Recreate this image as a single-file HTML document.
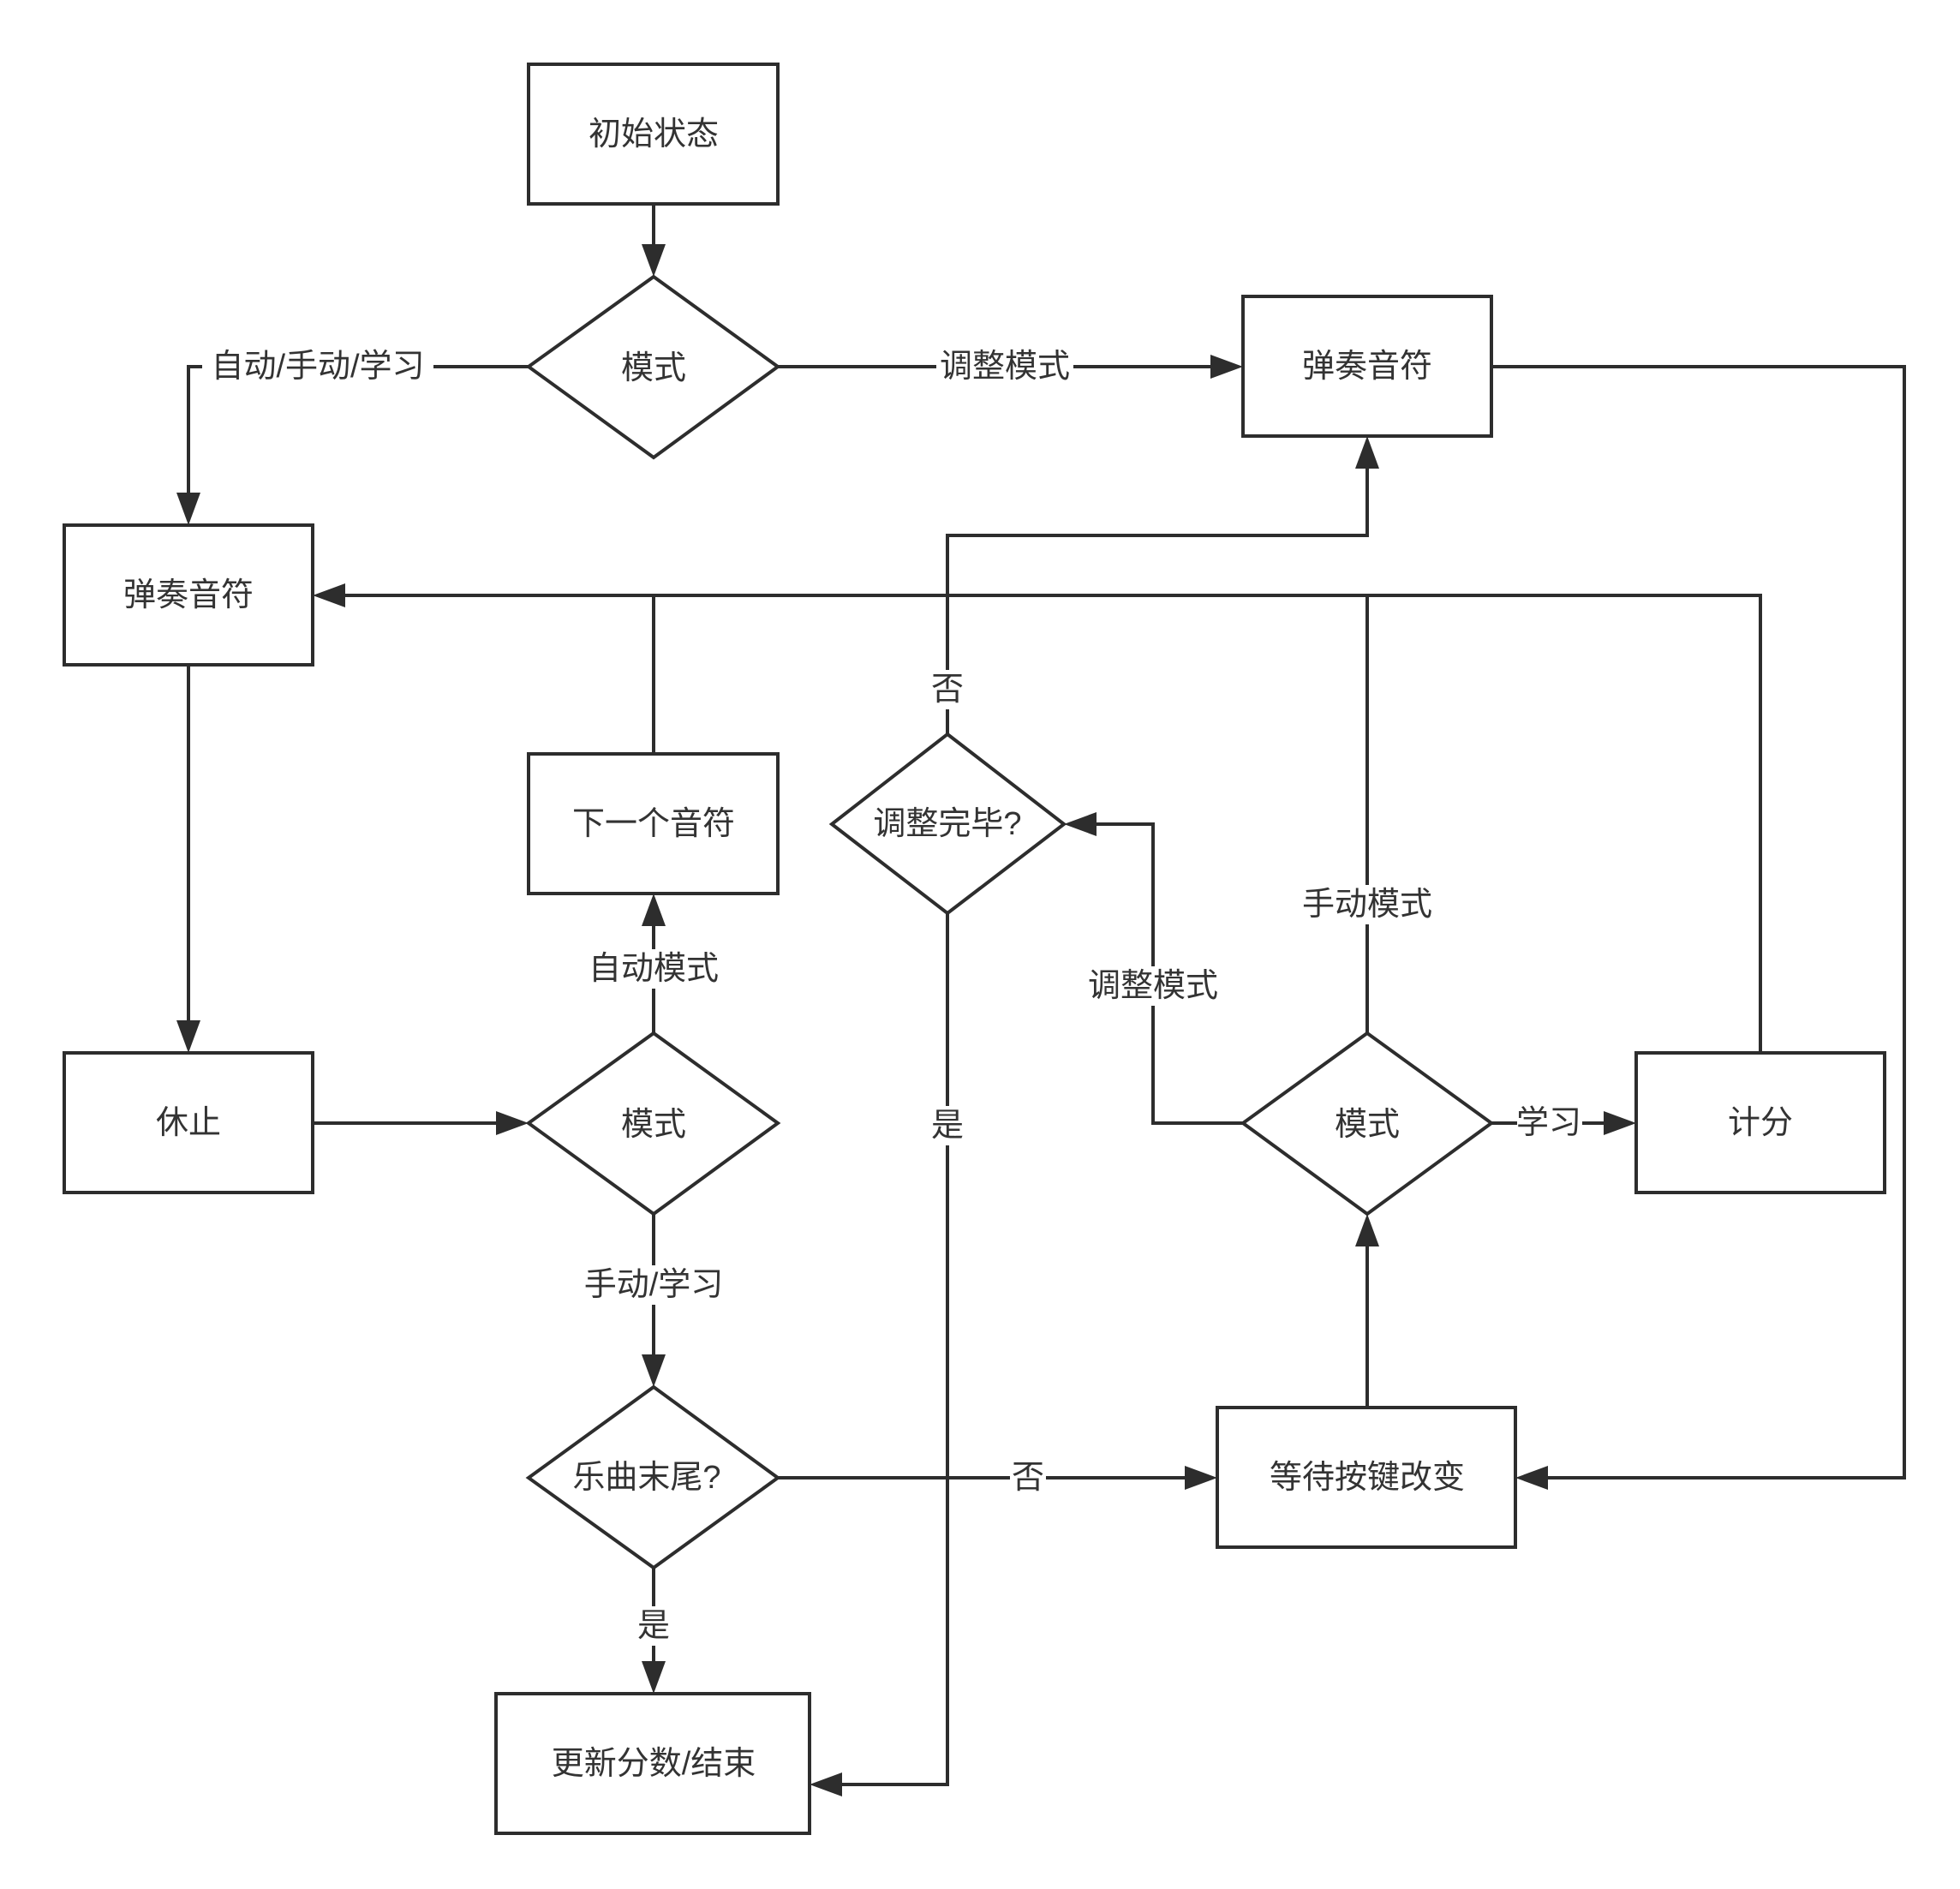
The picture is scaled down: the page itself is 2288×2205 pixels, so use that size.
<!DOCTYPE html>
<html><head><meta charset="utf-8"><style>
html,body{margin:0;padding:0;background:#fff;}
svg{display:block;}
text{font-family:"Liberation Sans","Noto Sans CJK SC",sans-serif;font-size:38px;fill:#333;text-anchor:middle;dominant-baseline:central;}
</style></head><body>
<svg width="2288" height="2205" viewBox="0 0 2288 2205" xmlns="http://www.w3.org/2000/svg">
<defs>
<marker id="a" markerWidth="10" markerHeight="10" refX="9" refY="5" orient="auto" markerUnits="userSpaceOnUse" viewBox="0 0 10 10">
</marker>
</defs>
<g fill="none" stroke="#2d2d2d" stroke-width="4">
<!-- boxes -->
<rect x="617" y="75" width="291" height="163"/>
<rect x="1451" y="346" width="290" height="163"/>
<rect x="75" y="613" width="290" height="163"/>
<rect x="617" y="880" width="291" height="163"/>
<rect x="75" y="1229" width="290" height="163"/>
<rect x="1910" y="1229" width="290" height="163"/>
<rect x="1421" y="1643" width="348" height="163"/>
<rect x="579" y="1977" width="366" height="163"/>
<!-- diamonds -->
<polygon points="763,323 908,428 763,534 617,428"/>
<polygon points="1106,857 1242,962 1106,1066 971,962"/>
<polygon points="763,1206 908,1311 763,1417 617,1311"/>
<polygon points="1596,1206 1741,1311 1596,1417 1451,1311"/>
<polygon points="763,1619 908,1725 763,1830 617,1725"/>
<!-- lines -->
<polyline points="763,238 763,295"/>
<polyline points="617,428 220,428 220,585"/>
<polyline points="908,428 1423,428"/>
<polyline points="1741,428 2223,428 2223,1725 1797,1725"/>
<polyline points="220,776 220,1201"/>
<polyline points="365,1311 589,1311"/>
<polyline points="763,1206 763,1071"/>
<polyline points="763,880 763,695"/>
<polyline points="2055,1229 2055,695 393,695"/>
<polyline points="1596,1206 1596,695"/>
<polyline points="1451,1311 1346,1311 1346,962 1270,962"/>
<polyline points="1741,1311 1882,1311"/>
<polyline points="1596,1643 1596,1445"/>
<polyline points="1106,857 1106,625 1596,625 1596,537"/>
<polyline points="1106,1066 1106,2083 973,2083"/>
<polyline points="908,1725 1393,1725"/>
<polyline points="763,1830 763,1949"/>
<polyline points="763,1417 763,1591"/>
</g>
<g fill="#2d2d2d">
<polygon points="763,323 749,285 777,285"/>
<polygon points="220,613 206,575 234,575"/>
<polygon points="1451,428 1413,414 1413,442"/>
<polygon points="1769,1725 1807,1711 1807,1739"/>
<polygon points="220,1229 206,1191 234,1191"/>
<polygon points="617,1311 579,1297 579,1325"/>
<polygon points="763,1043 749,1081 777,1081"/>
<polygon points="365,695 403,681 403,709"/>
<polygon points="1242,962 1280,948 1280,976"/>
<polygon points="1910,1311 1872,1297 1872,1325"/>
<polygon points="1596,1417 1582,1455 1610,1455"/>
<polygon points="1596,509 1582,547 1610,547"/>
<polygon points="945,2083 983,2069 983,2097"/>
<polygon points="1421,1725 1383,1711 1383,1739"/>
<polygon points="763,1977 749,1939 777,1939"/>
<polygon points="763,1619 749,1581 777,1581"/>
</g>
<!-- label backgrounds -->
<g fill="#fff">
<rect x="236" y="405" width="270" height="46"/>
<rect x="1093" y="405" width="160" height="46"/>
<rect x="683" y="1108" width="160" height="46"/>
<rect x="1516" y="1033" width="160" height="46"/>
<rect x="1266" y="1128" width="160" height="46"/>
<rect x="1771" y="1288" width="76" height="46"/>
<rect x="1085" y="782" width="42" height="46"/>
<rect x="1085" y="1291" width="42" height="46"/>
<rect x="1179" y="1702" width="42" height="46"/>
<rect x="742" y="1875" width="42" height="46"/>
<rect x="673" y="1477" width="180" height="46"/>
</g>
<text x="763" y="157">初始状态</text>
<text x="763" y="430">模式</text>
<text x="1596" y="428">弹奏音符</text>
<text x="220" y="695">弹奏音符</text>
<text x="763" y="962">下一个音符</text>
<text x="1106" y="962">调整完毕?</text>
<text x="220" y="1311">休止</text>
<text x="763" y="1313">模式</text>
<text x="1596" y="1313">模式</text>
<text x="2055" y="1311">计分</text>
<text x="755" y="1725">乐曲末尾?</text>
<text x="1596" y="1725">等待按键改变</text>
<text x="763" y="2059">更新分数/结束</text>
<text x="371" y="428">自动/手动/学习</text>
<text x="1173" y="428">调整模式</text>
<text x="763" y="1131">自动模式</text>
<text x="1596" y="1056">手动模式</text>
<text x="1346" y="1151">调整模式</text>
<text x="1808" y="1311">学习</text>
<text x="1106" y="805">否</text>
<text x="1106" y="1314">是</text>
<text x="1200" y="1725">否</text>
<text x="763" y="1898">是</text>
<text x="763" y="1500">手动/学习</text>
</svg>
</body></html>
